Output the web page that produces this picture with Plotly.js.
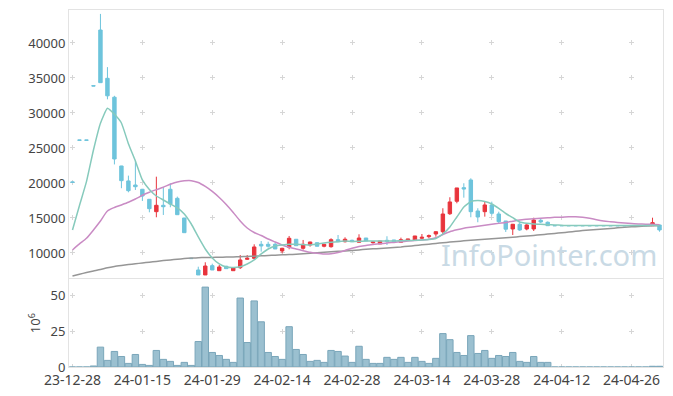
<!DOCTYPE html>
<html><head><meta charset="utf-8">
<script src="https://cdn.plot.ly/plotly-3.0.1.min.js"></script>
<style>html,body{margin:0;padding:0;background:#fff}#chart{width:673px;height:396px}</style>
</head><body><div id="chart"></div>
<script>
// ---- data ----
const dates = ['23-12-28','24-01-02','24-01-03','24-01-04','24-01-05','24-01-08','24-01-09','24-01-10','24-01-11','24-01-12',
'24-01-15','24-01-16','24-01-17','24-01-18','24-01-19','24-01-22','24-01-23','24-01-24','24-01-25','24-01-26',
'24-01-29','24-01-30','24-01-31','24-02-01','24-02-02','24-02-05','24-02-06','24-02-07','24-02-08','24-02-13',
'24-02-14','24-02-15','24-02-16','24-02-19','24-02-20','24-02-21','24-02-22','24-02-23','24-02-26','24-02-27',
'24-02-28','24-02-29','24-03-04','24-03-05','24-03-06','24-03-07','24-03-08','24-03-11','24-03-12','24-03-13',
'24-03-14','24-03-15','24-03-18','24-03-19','24-03-20','24-03-21','24-03-22','24-03-25','24-03-26','24-03-27',
'24-03-28','24-03-29','24-04-01','24-04-02','24-04-03','24-04-04','24-04-05','24-04-08','24-04-09','24-04-11',
'24-04-12','24-04-15','24-04-16','24-04-17','24-04-18','24-04-19','24-04-22','24-04-23','24-04-24','24-04-25',
'24-04-26','24-04-29','24-04-30','24-05-02','24-05-03'];

const openP = [20150,26150,26150,33900,41850,34950,32250,22430,20290,19710,
19100,17670,15900,16810,19100,17810,15000,9250,7570,6860,
8190,7470,8100,7470,7900,9100,9240,11240,11240,11240,
10290,10810,11960,10670,11140,11470,10960,10900,11900,11610,
11810,11530,12140,11470,11290,11810,11860,11530,11810,11810,
12100,12330,12710,13040,15610,17390,19330,20430,16000,15900,
16860,15570,14570,13430,14100,13430,13430,14670,14390,13900,
13900,13900,13900,13900,13900,13900,13900,13900,13900,13900,
13900,13900,13900,13900,14000];
const highP = [20150,26150,26150,33900,44150,36550,32450,22450,21050,23190,
19150,17700,20900,19390,19960,18050,15000,9250,8040,8670,
8470,8290,8170,7900,9710,9710,11240,11710,11610,11470,
10740,12430,11960,11860,11600,11470,11240,12100,12570,12240,
11900,12670,12140,11670,11710,12390,11860,12190,12000,12430,
12710,12640,13100,16390,17960,19290,19960,20670,16390,17330,
17330,15900,14570,14150,14390,14100,15040,14960,14500,13900,
13900,13900,13900,13900,13900,13900,13900,13900,13900,13900,
13900,13900,13900,15040,14000];
const lowP = [20100,26100,26100,33850,34330,31950,22650,19250,18670,19000,
17430,15810,15100,15430,16530,15470,12900,9200,6860,6860,
7570,7470,7760,7470,7710,9000,9100,10190,10760,10570,
9960,10530,11040,10470,10900,10960,10810,10760,11610,11500,
11610,11530,11710,11330,11290,11140,11570,11530,11700,11810,
11950,12100,12330,12710,15430,17100,17900,15100,14390,15190,
15360,14200,13000,12570,13140,13240,13140,14290,13900,13900,
13900,13900,13900,13900,13900,13900,13900,13900,13900,13900,
13900,13900,13900,13900,13040];
const closeP = [20100,26100,26100,33850,34330,32450,23430,20330,18900,19470,
18140,16330,16810,16610,17000,15470,12900,9200,6860,8140,
7570,8000,7760,7900,9000,9240,10860,11000,10960,10570,
10670,12100,11040,11240,11570,10960,11240,11900,11610,11960,
11610,12140,11710,11570,11710,11670,11570,11900,12000,12430,
12240,12470,13040,15570,17290,19290,19140,15900,15140,16860,
15670,14470,13400,14100,13290,14000,14710,14430,13900,13900,
13900,13900,13900,13900,13900,13900,13900,13900,13900,13900,
13900,13900,13900,14330,13290];

// volume, in millions of shares
const volume = [0,0,0,0.7,13.8,4.6,10.8,7.3,2.5,8.7,
1.8,1.1,11.5,5.3,3.9,1.1,3.2,1.1,17.7,55.5,
10.1,8.0,5.3,3.2,47.9,17.0,45.9,31.4,10.1,7.3,
5.3,28.0,12.2,8.7,3.9,4.6,3.2,11.5,10.8,7.6,
3.2,14.4,5.3,2.5,2.5,6.7,5.3,6.7,3.2,6.7,
3.9,2.5,6.0,23.2,19.0,10.1,8.0,21.8,9.4,11.5,
6.0,8.0,7.3,10.1,3.9,3.2,7.3,3.2,3.2,0,
0,0,0,0,0,0,0,0,0,0,
0,0,0,0.5,0.5];

const ma5 = [13290,16790,20190,24710,28530,30670,29810,28570,25610,23140,
20430,19070,18140,17570,17000,16430,15570,14140,12290,10570,
9290,8430,8000,7930,8040,8430,9000,9860,10570,11000,
11140,11240,11240,11210,11140,11290,11430,11530,11610,11700,
11640,11670,11710,11710,11710,11710,11710,11760,11790,11810,
11860,11930,12070,12710,13710,15140,16570,17330,17500,17360,
17000,16360,15640,15040,14430,14240,14140,14100,14040,14000,
13960,13910,13910,13910,13910,13910,13910,13910,13910,13910,
13910,13910,13910,13960,13890];
const ma20 = [10430,11290,12100,13290,14570,16000,16500,16860,17240,17710,
18240,18670,19040,19400,19810,20140,20310,20330,20070,19500,
18790,17930,16930,15790,14570,13570,12930,12500,12000,11570,
11140,10810,10570,10330,10100,9960,9860,9890,10070,10360,
10670,10930,11070,11210,11310,11430,11510,11600,11700,11790,
11860,11960,12170,12640,13040,13310,13540,13690,13830,13970,
14110,14230,14360,14540,14710,14810,14900,14970,15030,15090,
15110,15160,15170,15100,14960,14740,14570,14460,14360,14270,
14200,14140,14110,14100,14030];
const ma60 = [6710,6960,7210,7430,7640,7890,8070,8210,8340,8460,
8570,8690,8800,8910,9010,9110,9200,9270,9330,9360,
9370,9390,9410,9440,9470,9500,9540,9590,9640,9690,
9730,9770,9830,9890,9960,10030,10100,10160,10230,10290,
10360,10440,10530,10590,10640,10710,10790,10860,10960,11060,
11160,11260,11360,11460,11560,11640,11730,11810,11900,11970,
12040,12110,12190,12260,12340,12430,12510,12600,12700,12790,
12890,12990,13100,13200,13290,13370,13440,13510,13590,13660,
13730,13790,13840,13900,13940];

const priceTicks = [10000,15000,20000,25000,30000,35000,40000];
const priceTickText = ['10000','15000','20000','25000','30000','35000','40000'];
const volTicks = [0,25,50];
const tickEvery = 10;
const tickDates = dates.filter((d,i)=>i%tickEvery===0);

// ---- geometry / style ----
const W=673,H=396,M={l:69,r:10,t:10,b:29};
const PW=W-M.l-M.r, PH=H-M.t-M.b;
const priceDomain=[0.248,1], volDomain=[0,0.246];
const priceRange=[6360,44710], volRange=[0,61];
const nCat=dates.length;
const xRange=[-0.5,nCat-0.5];
const CROSS=5;

// grid drawn as small "+" marks at tick crossings via dash patterns
function dashAt(centers,len){
  const parts=['0px'];let pos=0;
  centers.forEach(c=>{const s=c-CROSS/2;parts.push((s-pos).toFixed(2)+'px');parts.push(CROSS+'px');pos=s+CROSS;});
  parts.push(Math.max(len-pos,1).toFixed(2)+'px');
  return parts.join(',');
}
const catPx=PW/(xRange[1]-xRange[0]);
const xCenters=dates.map((d,i)=>i).filter(i=>i%tickEvery===0).map(i=>(i-xRange[0])*catPx);
const yGridDash=dashAt(xCenters,PW);
const pH=PH*(priceDomain[1]-priceDomain[0]);
const pCenters=priceTicks.slice().reverse().map(v=>(priceRange[1]-v)/(priceRange[1]-priceRange[0])*pH);
const xGridPrice=dashAt(pCenters,pH);
const vH=PH*(volDomain[1]-volDomain[0]);
const vCenters=volTicks.slice().reverse().map(v=>(volRange[1]-v)/(volRange[1]-volRange[0])*vH);
const xGridVol=dashAt(vCenters,vH);

const RED='#e8343c', BLUE='#6ec4dc';
const GRID='#d6d6d6', BORDER='#e3e3e3';

const traces=[
 {type:'candlestick',x:dates,open:openP,high:highP,low:lowP,close:closeP,xaxis:'x',yaxis:'y',
  increasing:{line:{color:RED,width:1},fillcolor:RED},
  decreasing:{line:{color:BLUE,width:1},fillcolor:BLUE},
  whiskerwidth:0,hoverinfo:'skip'},
 {type:'scatter',mode:'lines',x:dates,y:ma60,xaxis:'x',yaxis:'y',line:{color:'rgb(150,150,150)',width:1.5,shape:'spline',smoothing:0.6},hoverinfo:'skip'},
 {type:'scatter',mode:'lines',x:dates,y:ma20,xaxis:'x',yaxis:'y',line:{color:'rgb(201,139,196)',width:1.5,shape:'spline',smoothing:0.6},hoverinfo:'skip'},
 {type:'scatter',mode:'lines',x:dates,y:ma5,xaxis:'x',yaxis:'y',line:{color:'rgb(134,202,188)',width:1.5,shape:'spline',smoothing:0.4},hoverinfo:'skip'},
 {type:'bar',x:dates,y:volume,xaxis:'x2',yaxis:'y2',marker:{color:'#9bc0d0',line:{color:'#7aa6ba',width:1}},hoverinfo:'skip'}
];

const common={showline:true,mirror:true,linecolor:BORDER,linewidth:1,zeroline:false,ticks:'',gridcolor:GRID,gridwidth:1,showgrid:true,fixedrange:true};
const layout={
 width:W,height:H,margin:M,paper_bgcolor:'#fff',plot_bgcolor:'#fff',showlegend:false,
 font:{family:'Noto Sans, sans-serif',size:13,color:'#444'},
 bargap:0.08,
 xaxis:Object.assign({},common,{type:'category',domain:[0,1],anchor:'y',range:xRange,rangeslider:{visible:false},
   showticklabels:false,tickmode:'array',tickvals:tickDates,griddash:xGridPrice}),
 xaxis2:Object.assign({},common,{type:'category',domain:[0,1],anchor:'y2',matches:'x',range:xRange,
   tickmode:'array',tickvals:tickDates,ticktext:tickDates,griddash:xGridVol,tickfont:{size:14,color:'#444'}}),
 yaxis:Object.assign({},common,{domain:priceDomain,range:priceRange,tickmode:'array',tickvals:priceTicks,ticktext:priceTickText,griddash:yGridDash}),
 yaxis2:Object.assign({},common,{domain:volDomain,range:volRange,tickmode:'array',tickvals:volTicks,griddash:yGridDash,
   title:{text:'10<sup>6</sup>',standoff:6,font:{size:13,color:'#444'}}}),
 annotations:[{text:'InfoPointer.com',xref:'paper',yref:'paper',x:0.993,y:0.256,xanchor:'right',yanchor:'bottom',
   showarrow:false,font:{family:'Noto Sans, sans-serif',size:29,color:'#c9dae5'}}]
};
Plotly.newPlot('chart',traces,layout,{staticPlot:true,displayModeBar:false});
</script></body></html>
